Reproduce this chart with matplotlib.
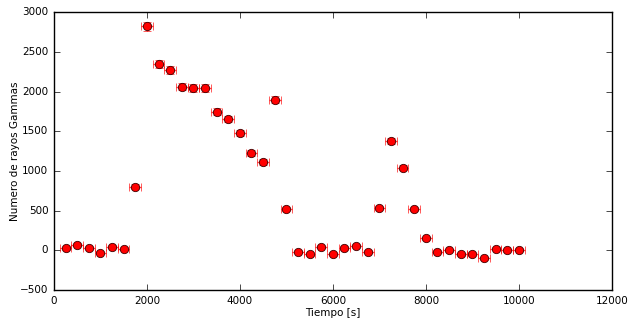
import matplotlib
matplotlib.use("Agg")
import matplotlib.pyplot as plt

tiempo = [250, 500, 750, 1000, 1250, 1500, 1750, 2000, 2250, 2500,
          2750, 3000, 3250, 3500, 3750, 4000, 4250, 4500, 4750, 5000,
          5250, 5500, 5750, 6000, 6250, 6500, 6750, 7000, 7250, 7500,
          7750, 8000, 8250, 8500, 8750, 9000, 9250, 9500, 9750, 10000]
gammas = [30, 70, 30, -30, 45, 20, 800, 2820, 2350, 2270,
          2060, 2045, 2045, 1745, 1655, 1480, 1230, 1110, 1895, 520,
          -15, -45, 45, -45, 30, 55, -15, 535, 1380, 1040,
          520, 150, -15, 0, -50, -45, -100, 20, 0, 10]
err_t = [125] * len(tiempo)
err_g = [20, 20, 20, 20, 20, 20, 30, 55, 50, 50,
         45, 45, 45, 42, 42, 40, 36, 34, 44, 25,
         20, 20, 20, 20, 20, 20, 20, 25, 38, 33,
         25, 20, 20, 20, 20, 20, 20, 20, 20, 20]

plt.style.use('classic')
fig = plt.figure(figsize=(6.34, 3.27), dpi=100)
ax = fig.add_axes([0.085, 0.113, 0.880, 0.850])
ax.errorbar(tiempo, gammas, xerr=err_t, yerr=err_g, fmt='o', color='r',
            ecolor=(1, 0, 0, 0.75), markersize=6, markeredgecolor='#400000',
            markeredgewidth=0.6, capsize=3, elinewidth=1)
ax.set_xlim(0, 12000)
ax.set_ylim(-500, 3000)
ax.set_xlabel("Tiempo [s]", fontsize=7.5, labelpad=2)
ax.set_ylabel("Numero de rayos Gammas", fontsize=7.5, labelpad=0)
ax.tick_params(labelsize=7.5)
fig.savefig("out.png", dpi=100)
